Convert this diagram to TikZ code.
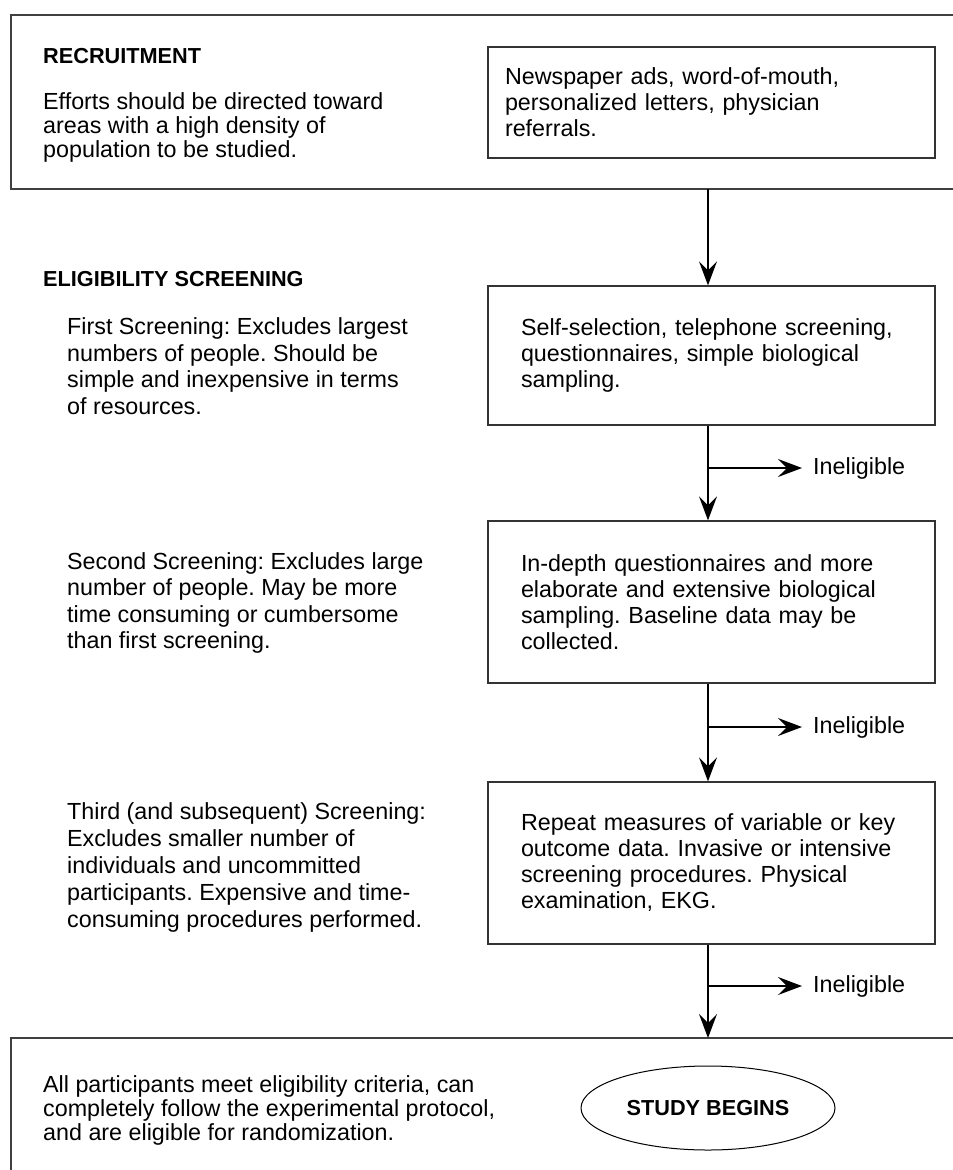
\documentclass[tikz,border=0pt]{standalone}
\usepackage{fontspec}
\setmainfont{Liberation Sans}
\frenchspacing
\usetikzlibrary{positioning, shapes.geometric, arrows.meta}
\tikzset{
    txt/.style={inner sep=0pt, anchor=west, align=left, font=\fontsize{23.3}{26.5}\selectfont},
    head/.style={inner sep=0pt, anchor=west, font=\bfseries\fontsize{21.7}{26}\selectfont},
    stage/.style={rectangle, draw=black!80, line width=1.3pt, minimum width=447pt, inner xsep=33pt, inner ysep=0pt, text width=381pt, align=left, font=\fontsize{23.3}{26}\selectfont},
    frame/.style={draw=black!75, line width=1.3pt},
    flow/.style={-{Stealth[length=24pt, width=18pt, inset=9pt]}, line width=1.2pt},
    inel/.style={inner sep=0pt, font=\fontsize{23.3}{26}\selectfont},
    start/.style={ellipse, draw, line width=1pt, minimum width=254pt, minimum height=84pt, inner sep=0pt, font=\bfseries\fontsize{21.7}{26}\selectfont},
}
\begin{document}
\begin{tikzpicture}[x=1pt, y=-1pt]
    \useasboundingbox (0,0) rectangle (953,1170);
    \coordinate (ax) at (708,0);
    % outer frames, open on the right
    \draw[frame] (953,15) -- (11,15) -- (11,189) -- (953,189);
    \draw[frame] (953,1038) -- (11,1038) -- (11,1170);
    \coordinate (topout) at (708,189);
    \coordinate (botin) at (708,1038);
    % left column
    \node [head] (rechead) at (43,56) {RECRUITMENT};
    \node [txt, font=\fontsize{23.3}{24}\selectfont] (recnote) at (43,127) {Efforts should be directed toward\\areas with a high density of\\population to be studied.};
    \node [head] (elighead) at (43,279) {ELIGIBILITY SCREENING};
    \node [txt] (first) at (67,366) {First Screening: Excludes largest\\numbers of people. Should be\\simple and inexpensive in terms\\of resources.};
    \node [txt] (second) at (67,603) {Second Screening: Excludes large\\number of people. May be more\\time consuming or cumbersome\\than first screening.};
    \node [txt, font=\fontsize{23.3}{27}\selectfont] (third) at (67,867) {Third (and subsequent) Screening:\\Excludes smaller number of\\individuals and uncommitted\\participants. Expensive and time-\\consuming procedures performed.};
    \node [txt, font=\fontsize{23.3}{24}\selectfont] (allmeet) at (43,1110) {All participants meet eligibility criteria, can\\completely follow the experimental protocol,\\and are eligible for randomization.};
    % right column
    \node [stage, minimum height=111pt, inner xsep=17pt, text width=413pt] (ads) at (711.5,102.5) {Newspaper ads, word-of-mouth,\\personalized letters, physician\\referrals.};
    \node [stage, minimum height=139pt] (self) at (711.5,355.5) {Self-selection, telephone screening,\\questionnaires, simple biological\\sampling.};
    \node [stage, minimum height=162pt] (indepth) at (711.5,602) {In-depth questionnaires and more\\elaborate and extensive biological\\sampling. Baseline data may be\\collected.};
    \node [stage, minimum height=162pt] (repeat) at (711.5,863) {Repeat measures of variable or key\\outcome data. Invasive or intensive\\screening procedures. Physical\\examination, EKG.};
    \node [start] (begins) at (708,1108) {STUDY BEGINS};
    % flow
    \draw[flow] (topout) -- (self.north -| ax);
    \draw[flow] (self.south -| ax) -- (indepth.north -| ax);
    \draw[flow] (indepth.south -| ax) -- (repeat.north -| ax);
    \draw[flow] (repeat.south -| ax) -- (botin);
    \coordinate (br1) at (708,468);
    \coordinate (br2) at (708,727);
    \coordinate (br3) at (708,986);
    \node [inel, right=105pt of br1] (inel1) {Ineligible};
    \node [inel, right=105pt of br2] (inel2) {Ineligible};
    \node [inel, right=105pt of br3] (inel3) {Ineligible};
    \draw[flow, shorten >=11pt] (br1) -- (inel1.west);
    \draw[flow, shorten >=11pt] (br2) -- (inel2.west);
    \draw[flow, shorten >=11pt] (br3) -- (inel3.west);
\end{tikzpicture}
\end{document}
